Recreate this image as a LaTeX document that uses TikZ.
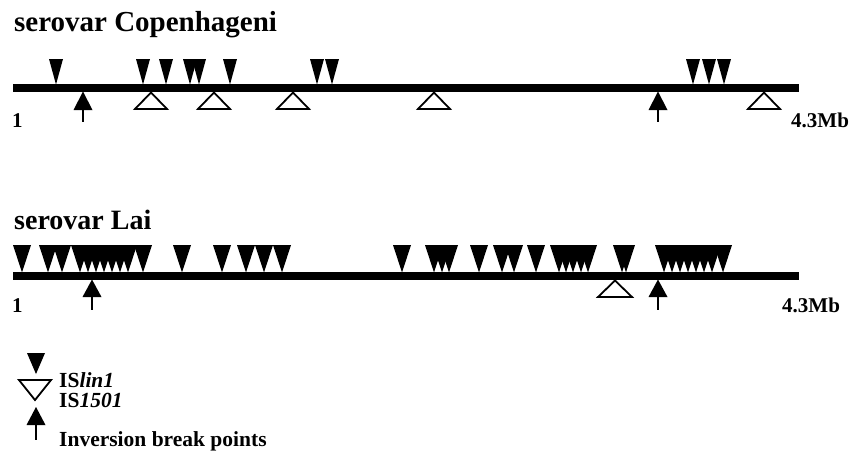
\documentclass[tikz,border=0pt]{standalone}
\usepackage{fontspec}
\setmainfont{Liberation Serif}
\begin{document}
\begin{tikzpicture}[x=1pt,y=-1pt,
  txt/.style={inner sep=0pt,anchor=base west,font=\bfseries\fontsize{21.5}{20}\selectfont},
  lbl/.style={inner sep=0pt,anchor=base west,font=\bfseries\fontsize{21}{21}\selectfont},
  ttl/.style={inner sep=0pt,anchor=base west,font=\bfseries\fontsize{#1}{#1}\selectfont},
  chrom/.style={line width=7.5pt},
  ins/.style={fill=black},
  openins/.style={draw=black,line width=1.8pt,fill=white,line join=miter},
  shaft/.style={line width=1.6pt}]
\useasboundingbox (0,0) rectangle (852,451);
% titles
\node[ttl=29] (t1) at (14,31) {serovar Copenhageni};
\node[ttl=28] (t2) at (14,229) {serovar Lai};
% ---- Copenhageni ----
\draw[chrom] (13,88) -- (799,88);
\foreach \x in {56,143,166,190,199,230,317,332,693,709,724}
  \fill[ins] ({\x-7},59) -- ({\x+7},59) -- (\x,84.5) -- cycle;
\foreach \x in {151,214,293,434,764}
  \draw[openins] ({\x-16},109) -- ({\x+16},109) -- (\x,92.5) -- cycle;
\foreach \x in {83,658}{
  \fill ({\x-9.5},110) -- ({\x+9.5},110) -- (\x,91.5) -- cycle;
  \draw[shaft] (\x,109) -- (\x,122);}
\node[lbl] (a1) at (12,127) {1};
\node[lbl] (b1) at (791,127) {4.3Mb};
% ---- Lai ----
\draw[chrom] (13,276) -- (799,276);
\foreach \x in {22,48,62,80,88,96,104,112,120,128,143,182,222,246,264,282,402,434,442,449,479,502,514,536,559,566,573,581,588,622,626,664,672,680,688,696,704,712,723}
  \fill[ins] ({\x-9},245) -- ({\x+9},245) -- (\x,272.5) -- cycle;
\foreach \x in {615}
  \draw[openins] ({\x-17},297) -- ({\x+17},297) -- (\x,280.5) -- cycle;
\foreach \x in {92,658}{
  \fill ({\x-9.5},297) -- ({\x+9.5},297) -- (\x,279.5) -- cycle;
  \draw[shaft] (\x,296) -- (\x,310);}
\node[lbl] (a2) at (12,312) {1};
\node[lbl] (b2) at (782,312) {4.3Mb};
% ---- legend ----
\fill[ins] (27,353) -- (45,353) -- (36,374) -- cycle;
\draw[openins] (19,380) -- (51,380) -- (35,400) -- cycle;
\fill (26.5,425) -- (45.5,425) -- (36,407) -- cycle;
\draw[shaft] (36,424) -- (36,440);
\node[txt,align=left] (l1) at (59,407) {IS\textit{lin1}\\IS\textit{1501}};
\node[txt] (l3) at (59,446) {Inversion break points};
\end{tikzpicture}
\end{document}
